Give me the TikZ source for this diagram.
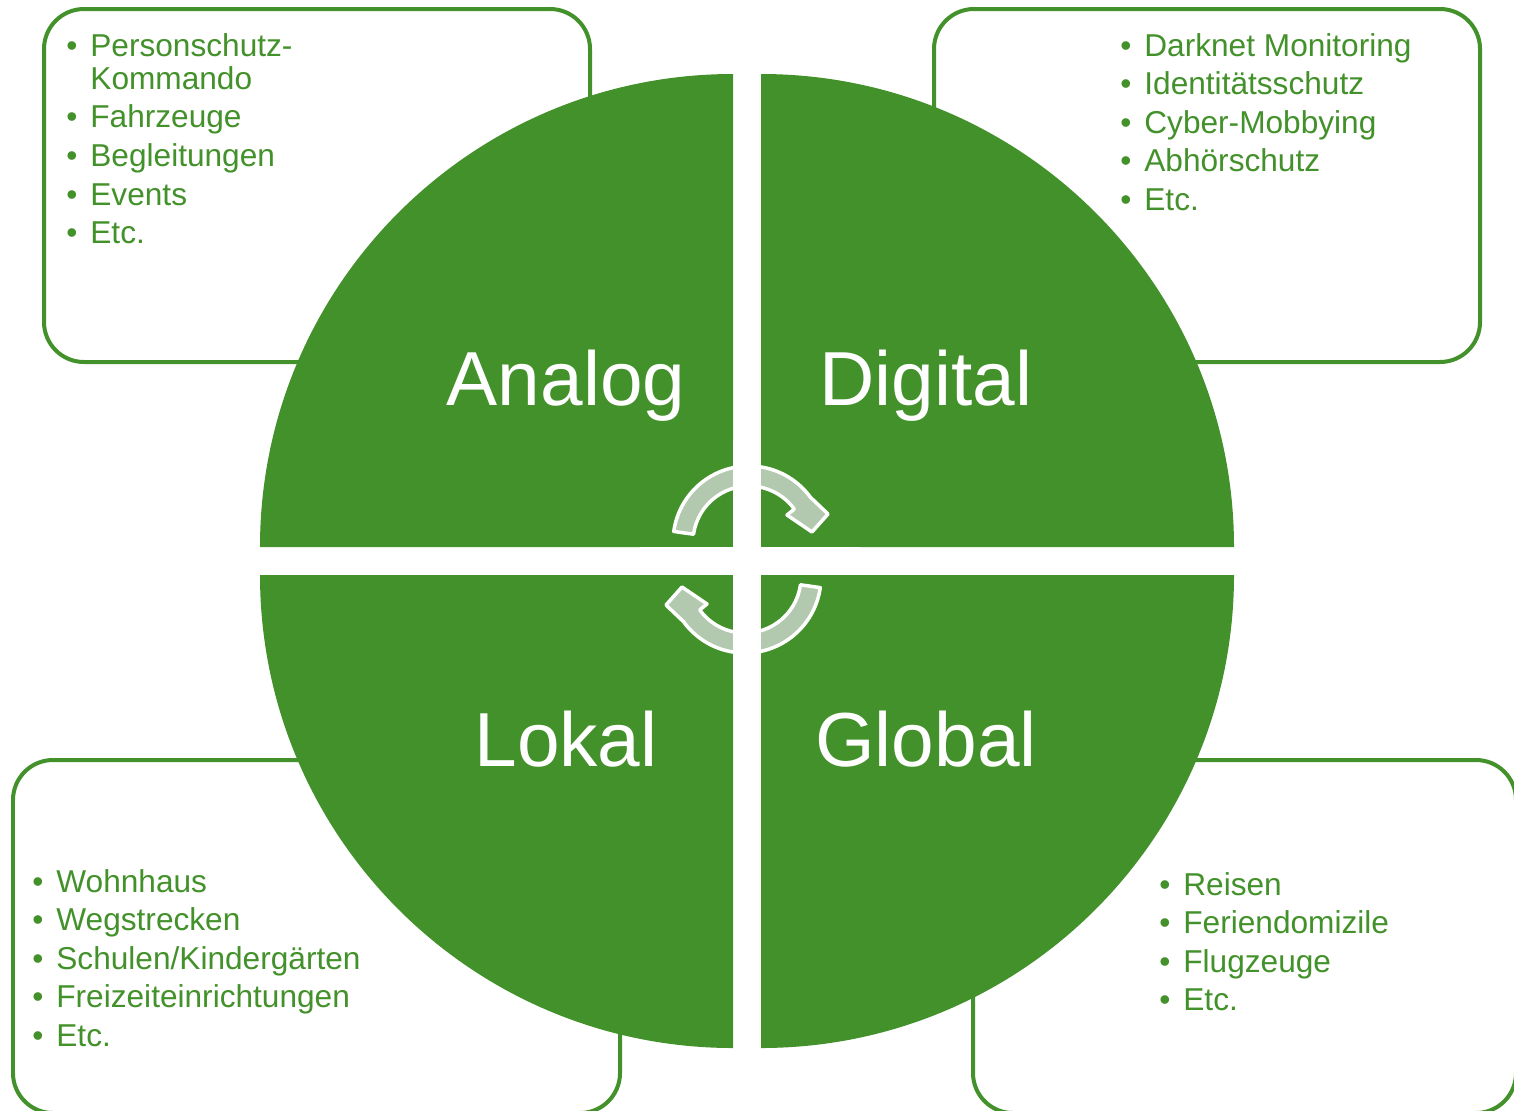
\documentclass[tikz,border=0pt]{standalone}
\usepackage{fontspec}
\setmainfont{Liberation Sans}
\definecolor{gruen}{HTML}{43912A}
\definecolor{salbei}{HTML}{B3C9AF}
\tikzset{
  kasten/.style={draw=gruen, fill=white, line width=0.08cm, rounded corners=0.8cm},
  viertel/.style={fill=gruen},
  titel/.style={text=white, font=\fontsize{43.6}{50}\selectfont, inner sep=0pt, anchor=base},
  liste/.style={text=gruen, font=\fontsize{18}{18.9}\selectfont, inner sep=0pt, anchor=base west},
  pfeil/.pic={
    \path[fill=salbei, draw=white, line width=0.07cm, line join=round]
      (188:76) arc (188:324:76) -- (79,-28) -- (63,-10) -- (38,-27)
      -- (324:56) arc (324:188:56) -- cycle;
  }
}

\begin{document}
\begin{tikzpicture}[x=0.02cm, y=-0.02cm]
\useasboundingbox (0,0) rectangle (1514,1110);
\clip (0,0) rectangle (1514,1110);

\draw[kasten] (44,9) rectangle (590,362);
\draw[kasten] (934,9) rectangle (1480,362);
\draw[kasten] (13,760) rectangle (620,1113);
\draw[kasten] (973,760) rectangle (1516,1113);

\path[viertel] (733,547) -- (260,547) arc (180:270:473) -- cycle;
\path[viertel] (761,547) -- (761,74) arc (270:360:473) -- cycle;
\path[viertel] (733,575) -- (260,575) arc (180:90:473) -- cycle;
\path[viertel] (761,575) -- (1234,575) arc (0:90:473) -- cycle;

\pic at (749,542) {pfeil};
\pic[rotate=180] at (745,577) {pfeil};
\fill[white] (733,440) rectangle (761,680);
\fill[white] (640,547) rectangle (860,575);

\node[titel] (analog) at (566,405) {Analog};
\node[titel] (digital) at (926,405) {Digital};
\node[titel] (lokal) at (566,766) {Lokal};
\node[titel] (global) at (926,766) {Global};

\node[liste] (listeAnalog) at (66,56) {\begin{tabular}[t]{@{}l@{\hspace{0.26cm}}l@{}}
• & Personschutz-\\
  & Kommando\\[3.1pt]
• & Fahrzeuge\\[3.1pt]
• & Begleitungen\\[3.1pt]
• & Events\\[3.1pt]
• & Etc.
\end{tabular}};
\node[liste] (listeDigital) at (1120,56) {\begin{tabular}[t]{@{}l@{\hspace{0.26cm}}l@{}}
• & Darknet Monitoring\\[3.1pt]
• & Identitätsschutz\\[3.1pt]
• & Cyber-Mobbying\\[3.1pt]
• & Abhörschutz\\[3.1pt]
• & Etc.
\end{tabular}};
\node[liste] (listeLokal) at (32,892) {\begin{tabular}[t]{@{}l@{\hspace{0.26cm}}l@{}}
• & Wohnhaus\\[3.1pt]
• & Wegstrecken\\[3.1pt]
• & Schulen/Kindergärten\\[3.1pt]
• & Freizeiteinrichtungen\\[3.1pt]
• & Etc.
\end{tabular}};
\node[liste] (listeGlobal) at (1159,895) {\begin{tabular}[t]{@{}l@{\hspace{0.26cm}}l@{}}
• & Reisen\\[3.1pt]
• & Feriendomizile\\[3.1pt]
• & Flugzeuge\\[3.1pt]
• & Etc.
\end{tabular}};
\end{tikzpicture}
\end{document}
